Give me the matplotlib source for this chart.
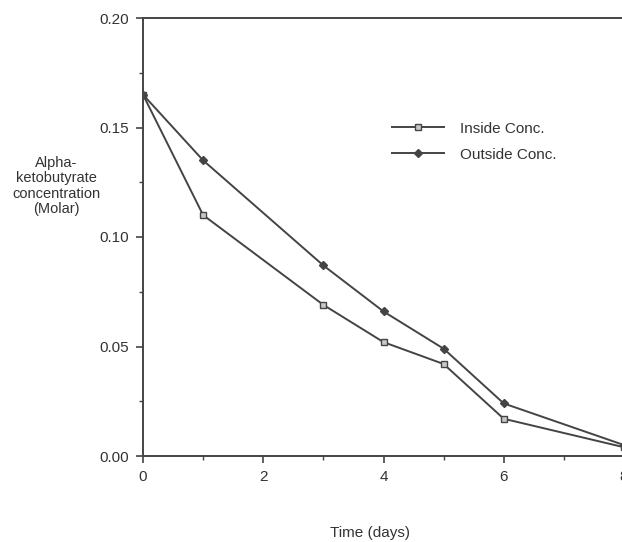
import matplotlib
matplotlib.use("Agg")
import matplotlib.pyplot as plt
from matplotlib.ticker import MultipleLocator

plt.rcParams['font.family'] = ['Liberation Sans', 'DejaVu Sans']

# data
days = [0, 1, 3, 4, 5, 6, 8]
inside_conc = [0.165, 0.110, 0.069, 0.052, 0.042, 0.017, 0.004]
outside_conc = [0.165, 0.135, 0.087, 0.066, 0.049, 0.024, 0.005]
y_ticks = [0.00, 0.05, 0.10, 0.15, 0.20]
x_ticks = [0, 2, 4, 6, 8]

ink = '#444444'

fig = plt.figure(figsize=(6.22, 5.42), dpi=100)
ax = fig.add_axes([143/622, 86/542, (624-143)/622, (456-18)/542])

ax.plot(days, inside_conc, color=ink, lw=1.4, marker='s', ms=5,
        mfc='#c8c8c8', mec=ink, mew=1.0, label='Inside Conc.')
ax.plot(days, outside_conc, color=ink, lw=1.4, marker='D', ms=4,
        mfc=ink, mec=ink, label='Outside Conc.')

ax.set_xlim(0, 8)
ax.set_ylim(0, 0.20)
ax.set_xticks(x_ticks)
ax.set_yticks(y_ticks)
ax.set_yticklabels(['%.2f' % v for v in y_ticks])
ax.xaxis.set_minor_locator(MultipleLocator(1))
ax.yaxis.set_minor_locator(MultipleLocator(0.025))
ax.tick_params(which='major', direction='out', length=5, width=1.2,
               color=ink, labelcolor='#333333', labelsize=11, pad=5)
ax.tick_params(which='minor', direction='out', length=3, width=1.0, color=ink)
ax.tick_params(top=False, right=False, which='both')

for side in ['left', 'bottom', 'top']:
    ax.spines[side].set_color(ink)
    ax.spines[side].set_linewidth(1.4)
ax.spines['right'].set_visible(False)

fig.text(56/622, 1 - 186/542, 'Alpha-\nketobutyrate\nconcentration\n(Molar)',
         ha='center', va='center', fontsize=10.5, color='#333333', linespacing=1.12)
fig.text(370/622, 1 - 533/542, 'Time (days)', ha='center', va='center',
         fontsize=11, color='#333333')

ax.legend(loc='upper left', bbox_to_anchor=(0.49, 0.795), frameon=False,
          fontsize=11, handlelength=3.4, handletextpad=1.05, labelspacing=0.8,
          labelcolor='#333333')

fig.savefig('out.png', dpi=100)
